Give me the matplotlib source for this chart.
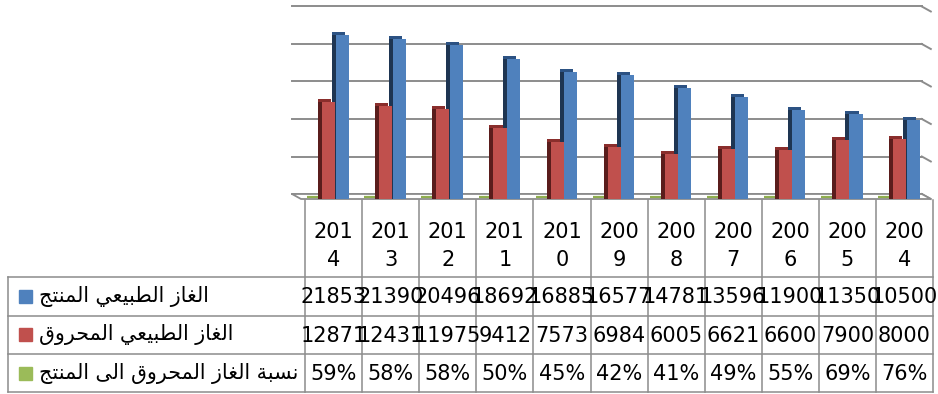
import matplotlib.pyplot as plt
import matplotlib.transforms as mtransforms
from matplotlib.patches import Polygon, Rectangle

plt.rcParams['font.family'] = ['DejaVu Sans']

years = ['2014', '2013', '2012', '2011', '2010', '2009', '2008', '2007', '2006', '2005', '2004']
produced = [21853, 21390, 20496, 18692, 16885, 16577, 14781, 13596, 11900, 11350, 10500]
burned = [12871, 12431, 11975, 9412, 7573, 6984, 6005, 6621, 6600, 7900, 8000]
ratio_pct = [59, 58, 58, 50, 45, 42, 41, 49, 55, 69, 76]

series_names = ['الغاز الطبيعي المنتج', 'الغاز الطبيعي المحروق', 'نسبة الغاز المحروق الى المنتج']
series_colors = ['#4F81BD', '#C0504D', '#9BBB59']

# arabic shaping (matplotlib has no bidi/shaping): isolated, final, initial, medial
FORMS = {
    'ا': (0xFE8D, 0xFE8E, None, None),
    'ب': (0xFE8F, 0xFE90, 0xFE91, 0xFE92),
    'ة': (0xFE93, 0xFE94, None, None),
    'ت': (0xFE95, 0xFE96, 0xFE97, 0xFE98),
    'ج': (0xFE9D, 0xFE9E, 0xFE9F, 0xFEA0),
    'ح': (0xFEA1, 0xFEA2, 0xFEA3, 0xFEA4),
    'ر': (0xFEAD, 0xFEAE, None, None),
    'ز': (0xFEAF, 0xFEB0, None, None),
    'س': (0xFEB1, 0xFEB2, 0xFEB3, 0xFEB4),
    'ط': (0xFEC1, 0xFEC2, 0xFEC3, 0xFEC4),
    'ع': (0xFEC9, 0xFECA, 0xFECB, 0xFECC),
    'غ': (0xFECD, 0xFECE, 0xFECF, 0xFED0),
    'ق': (0xFED5, 0xFED6, 0xFED7, 0xFED8),
    'ل': (0xFEDD, 0xFEDE, 0xFEDF, 0xFEE0),
    'م': (0xFEE1, 0xFEE2, 0xFEE3, 0xFEE4),
    'ن': (0xFEE5, 0xFEE6, 0xFEE7, 0xFEE8),
    'و': (0xFEED, 0xFEEE, None, None),
    'ى': (0xFEEF, 0xFEF0, 0xFBE8, 0xFBE9),
    'ي': (0xFEF1, 0xFEF2, 0xFEF3, 0xFEF4),
}


def shape_ar(text):
    out = []
    for i, ch in enumerate(text):
        f = FORMS.get(ch)
        if f is None:
            out.append(ch)
            continue
        prev = text[i - 1] if i > 0 else ''
        nxt = text[i + 1] if i + 1 < len(text) else ''
        jp = prev in FORMS and FORMS[prev][2] is not None
        jn = nxt in FORMS and f[2] is not None
        if jp and jn:
            code = f[3]
        elif jp:
            code = f[1]
        elif jn:
            code = f[2]
        else:
            code = f[0]
        out.append(chr(code))
    return ''.join(out)[::-1]


W, H = 938, 394
fig = plt.figure(figsize=(W / 100, H / 100), dpi=100)

# table geometry in pixels (top-left origin)
tbl_left = 8
col_x0 = 305
col_w = 57.1
n = len(years)
floor_y = 199
header_top = 200
row_edges = [277, 315.5, 354, 392]
grid_col = '#8c8c8c'

# bar axes, aligned with the table columns
ax = fig.add_axes([col_x0 / W, (H - floor_y) / H, n * col_w / W, 187.5 / H])
ax.set_xlim(0, n)
ax.set_ylim(0, 25000)
ax.axis('off')

px = fig.dpi_scale_trans
back = ax.transData + mtransforms.ScaledTranslation(-9 / 100, 5 / 100, px)
ident = mtransforms.IdentityTransform()

# back wall gridlines and right-hand depth edges
gx0, gx1 = -0.07, 10.96
for v in range(0, 25001, 5000):
    ax.plot([gx0, gx1], [v, v], color=grid_col, lw=1.4, transform=back, zorder=1, clip_on=False)
    p1 = back.transform((gx1, v))
    p2 = ax.transData.transform((gx1, v))
    ax.plot([p1[0], p2[0]], [p1[1], p2[1]], color=grid_col, lw=1.4, transform=ident,
            zorder=1, clip_on=False)

# floor
corners = [back.transform((gx0, 0)), back.transform((gx1, 0)),
           ax.transData.transform((gx1, 0)), ax.transData.transform((gx0, 0))]
ax.add_patch(Polygon(corners, closed=True, facecolor='white', edgecolor=grid_col, lw=1.3,
                     transform=ident, zorder=1.5, clip_on=False))

x = list(range(n))
bw = 0.23
top_off = ax.transData + mtransforms.ScaledTranslation(-4 / 100, 3 / 100, px)
side_off = ax.transData + mtransforms.ScaledTranslation(-4 / 100, 0, px)


def bar3d(xs, vals, face, top, side, z):
    ax.bar(xs, vals, bw, align='edge', color=top, transform=top_off, zorder=z, clip_on=False)
    ax.bar(xs, vals, bw, align='edge', color=side, transform=side_off, zorder=z + 0.1, clip_on=False)
    ax.bar(xs, vals, bw, align='edge', color=face, zorder=z + 0.2, clip_on=False)


bar3d([i + 0.535 for i in x], produced, series_colors[0], '#2C5283', '#1E3552', 2)
bar3d([i + 0.30 for i in x], burned, series_colors[1], '#8A2E2C', '#5A1D1C', 3)

# ratio series is a fraction, so it lies flat on the floor
green_off = ax.transData + mtransforms.ScaledTranslation(0, 2 / 100, px)
ax.bar([i + 0.04 for i in x], [r / 100 for r in ratio_pct], bw, align='edge',
       color=series_colors[2], edgecolor='#8FAE4F', lw=1.6, transform=green_off,
       zorder=2, clip_on=False)

# overlay for the data table
ov = fig.add_axes([0, 0, 1, 1], zorder=-1)
ov.set_xlim(0, W)
ov.set_ylim(H, 0)
ov.axis('off')

col_edges = [col_x0 + i * col_w for i in range(n + 1)]
for xe in col_edges:
    ov.plot([xe, xe], [header_top, row_edges[-1]], color=grid_col, lw=1.1)
for ye in row_edges:
    ov.plot([tbl_left, col_edges[-1]], [ye, ye], color=grid_col, lw=1.1)
ov.plot([tbl_left, tbl_left], [row_edges[0], row_edges[-1]], color=grid_col, lw=1.1)

fs = 15
for i, yr in enumerate(years):
    cx = col_x0 + (i + 0.5) * col_w
    ov.text(cx, 246, yr[:3] + '\n' + yr[3:], ha='center', va='center', fontsize=fs,
            linespacing=1.5)

rows = [[str(v) for v in produced], [str(v) for v in burned], [f'{r}%' for r in ratio_pct]]
for r, vals in enumerate(rows):
    cy = (row_edges[r] + row_edges[r + 1]) / 2
    for i, s in enumerate(vals):
        cx = col_x0 + (i + 0.5) * col_w
        ov.text(cx, cy + 1, s, ha='center', va='center', fontsize=fs)
    ov.add_patch(Rectangle((19, cy - 6.5), 13, 13, color=series_colors[r]))
    ov.text(39, cy, shape_ar(series_names[r]), ha='left', va='center', fontsize=14.8)

fig.savefig('out.png', dpi=100)
